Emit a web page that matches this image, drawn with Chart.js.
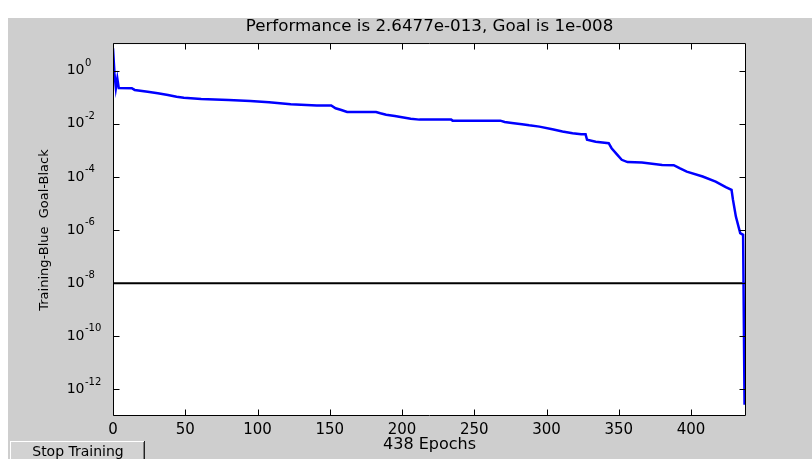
<!DOCTYPE html>
<html>
<head>
<meta charset="utf-8">
<script src="https://cdn.jsdelivr.net/npm/chart.js@4.4.1/dist/chart.umd.min.js"></script>
<style>
  html, body { margin: 0; padding: 0; background: #ffffff; }
  #wrap { position: relative; width: 812px; height: 459px; }
  canvas { display: block; }
</style>
</head>
<body>
<div id="wrap"><canvas id="c" width="812" height="459"></canvas></div>
<script>
// ---- data ----
const epochs = [0, 1, 2, 3, 4, 13, 15, 24, 31, 38, 44, 49, 61, 80, 95, 108, 123, 141, 151, 154, 158, 162,
  182, 185, 189, 195, 200, 206, 212, 234, 235, 268, 271, 276, 283, 288, 295, 304, 311, 318, 324, 327,
  328, 334, 343, 345, 349, 352, 356, 366, 380, 388, 392, 397, 408, 417, 424, 428, 429, 431, 434, 436, 437];
const trainingPerf = [6.9, 0.8, 0.22, 0.5, 0.22, 0.216, 0.187, 0.161, 0.140, 0.121, 0.104, 0.0957, 0.0855,
  0.0785, 0.072, 0.0643, 0.054, 0.049, 0.049, 0.0383, 0.033, 0.0278, 0.0278, 0.0248, 0.022, 0.0196, 0.0175,
  0.0155, 0.0143, 0.0143, 0.0131, 0.0131, 0.0117, 0.0107, 0.0096, 0.0087, 0.0078, 0.0062, 0.0051, 0.0044,
  0.0040, 0.0040, 0.0025, 0.0021, 0.00185, 0.0012, 0.00067, 0.00044, 0.00036, 0.000345, 0.000283,
  0.000275, 0.000212, 0.000158, 0.000103, 0.0000665, 0.000041, 0.0000325, 0.0000136, 0.0000032,
  7.6e-7, 6.6e-7, 2.6477e-13];
const goalEpochs = [0, 438];
const goalValues = [1e-8, 1e-8];
const xTickValues = [0, 50, 100, 150, 200, 250, 300, 350, 400];
const yTickExponents = [0, -2, -4, -6, -8, -10, -12];
const titleText = 'Performance is 2.6477e-013, Goal is 1e-008';
const xTitleText = '438 Epochs';
const yTitleText = 'Training-Blue  Goal-Black';
const buttonText = 'Stop Training';

// ---- chart ----
const FONT = 'DejaVu Sans';
Chart.defaults.font.family = FONT;
Chart.defaults.color = '#000000';

const matlabLook = {
  id: 'matlabLook',
  beforeDraw(chart) {
    const { ctx, chartArea: a } = chart;
    ctx.save();
    ctx.fillStyle = '#ffffff';
    ctx.fillRect(0, 0, chart.width, chart.height);
    ctx.fillStyle = '#cecece';
    ctx.fillRect(8, 18, chart.width - 8, chart.height - 18);
    ctx.fillStyle = '#ffffff';
    ctx.fillRect(a.left, a.top, a.right - a.left, a.bottom - a.top);
    // Stop Training button
    const bx = 10, by = 441, bw = 135, bh = 20;
    ctx.fillStyle = '#d2d2d2';
    ctx.fillRect(bx, by, bw, bh);
    ctx.fillStyle = '#ffffff';
    ctx.fillRect(bx, by, bw, 1);
    ctx.fillRect(bx, by, 1, bh);
    ctx.fillStyle = '#808080';
    ctx.fillRect(bx + bw - 2, by + 1, 1, bh);
    ctx.fillStyle = '#202020';
    ctx.fillRect(bx + bw - 1, by, 1, bh);
    ctx.fillStyle = '#000000';
    ctx.font = '14px "' + FONT + '"';
    ctx.textAlign = 'center';
    ctx.textBaseline = 'middle';
    ctx.fillText(buttonText, bx + 68, 452);
    ctx.restore();
  },
  afterDatasetsDraw(chart) {
    const { ctx, chartArea: a, scales } = chart;
    ctx.save();
    ctx.strokeStyle = '#000000';
    ctx.lineWidth = 1;
    const L = a.left + 0.5, R = a.right - 0.5, T = a.top - 0.5, B = a.bottom - 0.5;
    ctx.beginPath();
    ctx.rect(L, T, R - L, B - T);
    const tl = 6;
    xTickValues.forEach(v => {
      const px = Math.round(scales.x.getPixelForValue(v)) + 0.5;
      ctx.moveTo(px, B); ctx.lineTo(px, B - tl);
      ctx.moveTo(px, T); ctx.lineTo(px, T + tl);
    });
    yTickExponents.forEach(e => {
      const py = Math.round(scales.y.getPixelForValue(Math.pow(10, e))) + 0.5;
      ctx.moveTo(L, py); ctx.lineTo(L + tl, py);
      ctx.moveTo(R, py); ctx.lineTo(R - tl, py);
    });
    ctx.stroke();
    ctx.restore();
  },
  afterDraw(chart) {
    const { ctx, scales } = chart;
    ctx.save();
    ctx.fillStyle = '#000000';
    ctx.font = '10px "' + FONT + '"';
    ctx.textAlign = 'left';
    ctx.textBaseline = 'middle';
    yTickExponents.forEach(e => {
      const py = scales.y.getPixelForValue(Math.pow(10, e));
      ctx.fillText(String(e), 85, py - 7.5);
    });
    ctx.restore();
  }
};

new Chart(document.getElementById('c'), {
  type: 'line',
  data: {
    datasets: [
      {
        label: 'Training',
        data: epochs.map((x, i) => ({ x: x, y: trainingPerf[i] })),
        borderColor: '#0000ff',
        borderWidth: 2.5,
        pointRadius: 0,
        tension: 0,
        fill: false
      },
      {
        label: 'Goal',
        data: goalEpochs.map((x, i) => ({ x: x, y: goalValues[i] })),
        borderColor: '#000000',
        borderWidth: 2,
        pointRadius: 0,
        tension: 0,
        fill: false
      }
    ]
  },
  options: {
    responsive: false,
    animation: false,
    devicePixelRatio: 1,
    layout: { padding: { left: 0, right: 66, top: 0, bottom: 0 } },
    plugins: {
      legend: { display: false },
      tooltip: { enabled: false },
      title: {
        display: true,
        text: titleText,
        fullSize: false,
        color: '#000000',
        font: { family: FONT, size: 16.7, weight: 'normal', lineHeight: 1.2 },
        padding: { top: 17, bottom: 7 }
      }
    },
    scales: {
      x: {
        type: 'linear',
        position: 'bottom',
        min: 0,
        max: 438,
        grid: { display: false, drawTicks: false },
        border: { display: false },
        ticks: {
          color: '#000000',
          font: { family: FONT, size: 15 },
          padding: 5,
          maxRotation: 0,
          autoSkip: false
        },
        afterBuildTicks: s => { s.ticks = xTickValues.map(v => ({ value: v })); },
        afterFit: s => { s.height = 43; },
        title: {
          display: true,
          text: xTitleText,
          color: '#000000',
          font: { family: FONT, size: 16, lineHeight: 1.2 },
          padding: { top: 0, bottom: 5 }
        }
      },
      y: {
        type: 'logarithmic',
        position: 'left',
        min: 1e-13,
        max: 10,
        grid: { display: false, drawTicks: false },
        border: { display: false },
        ticks: {
          color: '#000000',
          font: { family: FONT, size: 14 },
          padding: 28.5,
          callback: () => '10'
        },
        afterBuildTicks: s => { s.ticks = yTickExponents.map(e => ({ value: Math.pow(10, e) })); },
        afterFit: s => { s.width = 113; },
        title: {
          display: true,
          text: yTitleText,
          color: '#000000',
          font: { family: FONT, size: 13, lineHeight: 1.2 },
          padding: { top: 37.2, bottom: 0 }
        }
      }
    }
  },
  plugins: [matlabLook]
});
</script>
</body>
</html>
